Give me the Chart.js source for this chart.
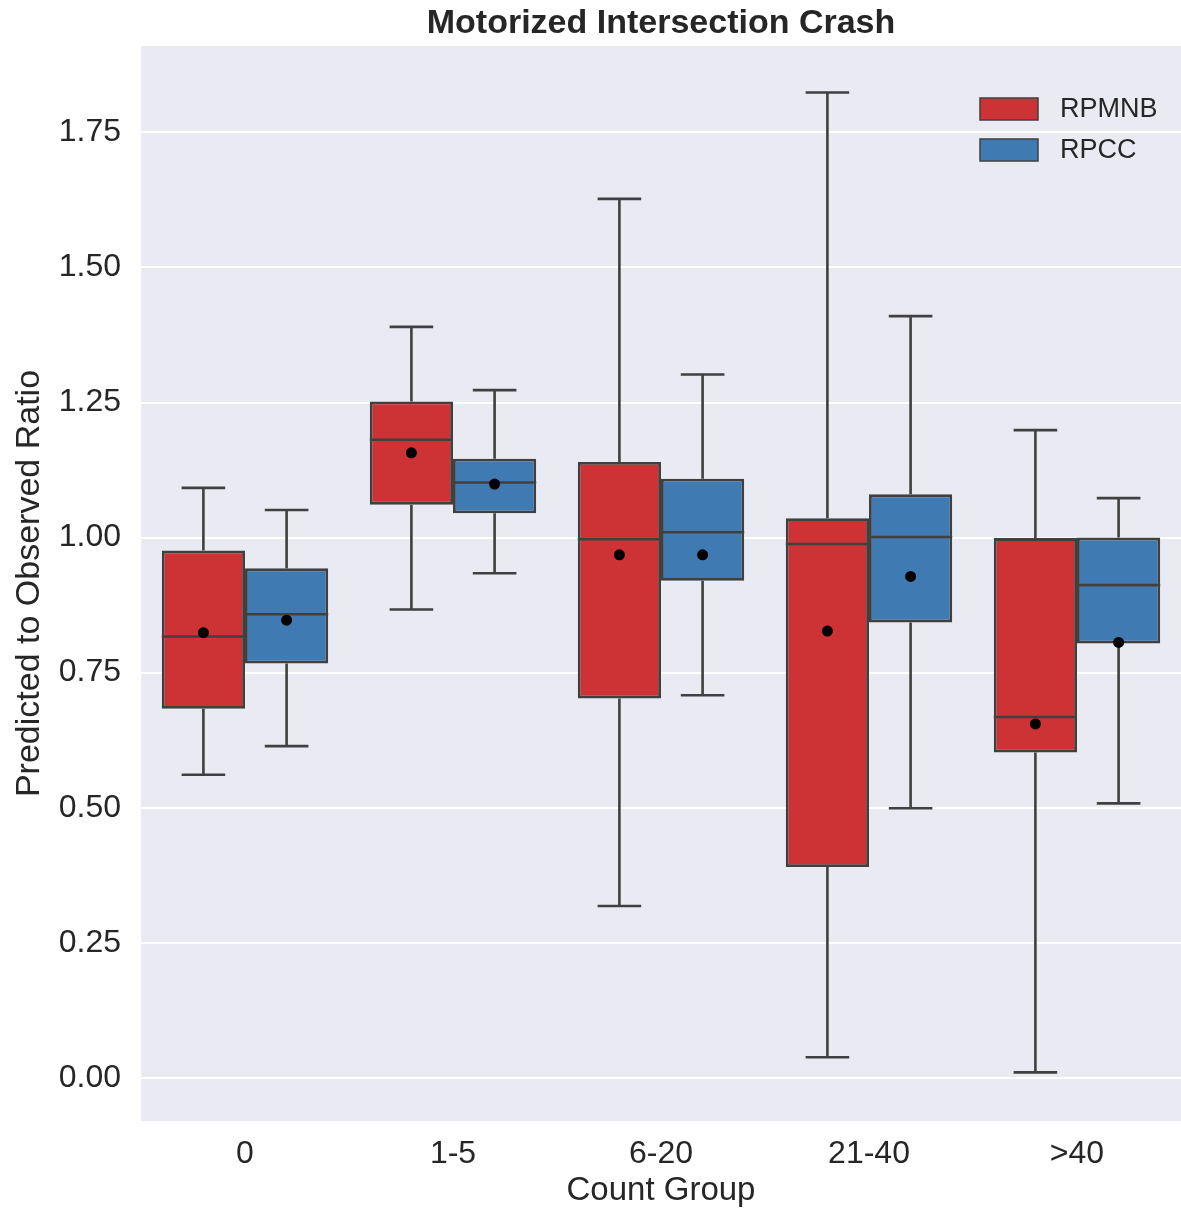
<!DOCTYPE html>
<html>
<head>
<meta charset="utf-8">
<script src="https://cdn.jsdelivr.net/npm/chart.js@4/dist/chart.umd.min.js"></script>
<style>
  html, body { margin: 0; padding: 0; background: #fff; }
  canvas { display: block; }
</style>
</head>
<body>
<canvas id="myChart" width="1181" height="1212"></canvas>
<script>
const groups = ['0', '1-5', '6-20', '21-40', '>40'];
const yTicks = [0, 0.25, 0.5, 0.75, 1.0, 1.25, 1.5, 1.75];
const chartTitle = 'Motorized Intersection Crash';

// RPMNB box stats per group
const rpmnbLow  = [0.561, 0.867, 0.318, 0.038, 0.010];
const rpmnbQ1   = [0.683, 1.061, 0.702, 0.390, 0.602];
const rpmnbMed  = [0.817, 1.181, 0.997, 0.988, 0.668];
const rpmnbQ3   = [0.976, 1.252, 1.140, 1.036, 0.999];
const rpmnbHigh = [1.092, 1.390, 1.627, 1.824, 1.199];
const rpmnbMean = [0.824, 1.157, 0.968, 0.827, 0.655];

// RPCC box stats per group
const rpccLow  = [0.614, 0.934, 0.708, 0.499, 0.508];
const rpccQ1   = [0.767, 1.045, 0.920, 0.843, 0.804];
const rpccMed  = [0.858, 1.102, 1.010, 1.001, 0.912];
const rpccQ3   = [0.943, 1.146, 1.109, 1.080, 1.000];
const rpccHigh = [1.051, 1.273, 1.302, 1.410, 1.073];
const rpccMean = [0.847, 1.099, 0.968, 0.928, 0.806];

const textColor = '#262626';
const lineColor = '#404040';
Chart.defaults.font.family = "'Liberation Sans', Arial, sans-serif";

function boxData(q1, q3) {
  return groups.map((g, i) => [q1[i], q3[i]]);
}

// whiskers, medians, means, background, title and legend
const boxParts = {
  id: 'boxParts',
  beforeDraw(chart) {
    const {ctx, chartArea: ca} = chart;
    ctx.save();
    ctx.fillStyle = '#eaeaf2';
    ctx.fillRect(ca.left, ca.top, ca.right - ca.left, ca.bottom - ca.top);
    ctx.restore();
  },
  beforeDatasetsDraw(chart) {
    const {ctx} = chart;
    const y = chart.scales.y;
    ctx.save();
    ctx.strokeStyle = lineColor;
    ctx.lineWidth = 2.6;
    chart.data.datasets.forEach((ds, d) => {
      chart.getDatasetMeta(d).data.forEach((el, i) => {
        const cap = el.width / 4 + 1;
        const lo = y.getPixelForValue(ds.low[i]);
        const hi = y.getPixelForValue(ds.high[i]);
        const b1 = y.getPixelForValue(ds.data[i][0]);
        const b3 = y.getPixelForValue(ds.data[i][1]);
        ctx.beginPath();
        ctx.moveTo(el.x, lo); ctx.lineTo(el.x, b1);
        ctx.moveTo(el.x, b3); ctx.lineTo(el.x, hi);
        ctx.moveTo(el.x - cap, lo); ctx.lineTo(el.x + cap, lo);
        ctx.moveTo(el.x - cap, hi); ctx.lineTo(el.x + cap, hi);
        ctx.stroke();
      });
    });
    ctx.restore();
  },
  afterDatasetsDraw(chart) {
    const {ctx, chartArea: ca} = chart;
    const y = chart.scales.y;
    ctx.save();
    chart.data.datasets.forEach((ds, d) => {
      chart.getDatasetMeta(d).data.forEach((el, i) => {
        const m = y.getPixelForValue(ds.med[i]);
        ctx.strokeStyle = lineColor;
        ctx.lineWidth = 2.6;
        ctx.beginPath();
        ctx.moveTo(el.x - el.width / 2, m);
        ctx.lineTo(el.x + el.width / 2, m);
        ctx.stroke();
        ctx.fillStyle = '#000';
        ctx.beginPath();
        ctx.arc(el.x, y.getPixelForValue(ds.mean[i]), 5.5, 0, Math.PI * 2);
        ctx.fill();
      });
    });

    // legend in upper right of plot
    ctx.font = "27px 'Liberation Sans', Arial, sans-serif";
    ctx.textBaseline = 'middle';
    chart.data.datasets.forEach((ds, d) => {
      const top = ca.top + 52 + d * 41;
      ctx.fillStyle = ds.backgroundColor;
      ctx.fillRect(ca.right - 201, top, 58, 22);
      ctx.strokeStyle = lineColor;
      ctx.lineWidth = 1.5;
      ctx.strokeRect(ca.right - 201, top, 58, 22);
      ctx.fillStyle = textColor;
      ctx.fillText(ds.label, ca.right - 121, top + 12);
    });

    // title centred over the plot area
    ctx.font = "bold 34px 'Liberation Sans', Arial, sans-serif";
    ctx.textAlign = 'center';
    ctx.textBaseline = 'middle';
    ctx.fillStyle = textColor;
    ctx.fillText(chartTitle, (ca.left + ca.right) / 2, ca.top - 22);
    ctx.restore();
  }
};

new Chart('myChart', {
  type: 'bar',
  data: {
    labels: groups,
    datasets: [{
      label: 'RPMNB',
      data: boxData(rpmnbQ1, rpmnbQ3),
      low: rpmnbLow, med: rpmnbMed, high: rpmnbHigh, mean: rpmnbMean,
      backgroundColor: '#cd3234',
      borderColor: lineColor,
      borderWidth: 2.8,
      borderSkipped: false
    }, {
      label: 'RPCC',
      data: boxData(rpccQ1, rpccQ3),
      low: rpccLow, med: rpccMed, high: rpccHigh, mean: rpccMean,
      backgroundColor: '#407ab2',
      borderColor: lineColor,
      borderWidth: 2.8,
      borderSkipped: false
    }]
  },
  options: {
    responsive: false,
    animation: false,
    categoryPercentage: 0.8,
    barPercentage: 1.0,
    layout: {padding: {top: 46, left: 0, right: 0, bottom: 0}},
    plugins: {
      legend: {display: false},
      tooltip: {enabled: false},
      title: {display: false}
    },
    scales: {
      x: {
        grid: {display: false},
        border: {display: false},
        ticks: {color: textColor, font: {size: 32}, padding: 6},
        title: {
          display: true,
          text: 'Count Group',
          color: textColor,
          font: {size: 33},
          padding: {top: 0, bottom: 1}
        },
        afterFit: s => { s.height = 91; }
      },
      y: {
        min: -0.08,
        max: 1.91,
        afterBuildTicks: s => { s.ticks = yTicks.map(v => ({value: v})); },
        grid: {color: '#ffffff', lineWidth: 2, drawTicks: false},
        border: {display: false},
        ticks: {
          color: textColor,
          font: {size: 32},
          padding: 20,
          callback: v => v.toFixed(2)
        },
        title: {
          display: true,
          text: 'Predicted to Observed Ratio',
          color: textColor,
          font: {size: 34},
          padding: {top: 9, bottom: 0}
        },
        afterFit: s => { s.width = 141; }
      }
    }
  },
  plugins: [boxParts]
});
</script>
</body>
</html>
